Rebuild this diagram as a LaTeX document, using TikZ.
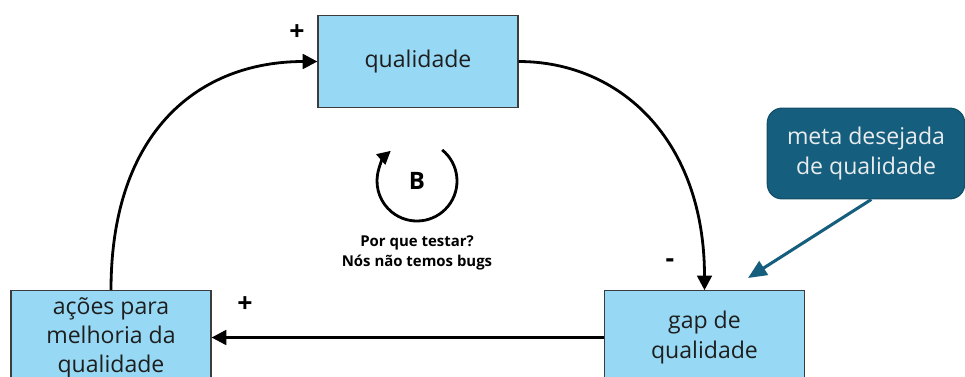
\documentclass[tikz,border=0pt]{standalone}
\usepackage{fontspec}
\setmainfont{Open Sans}
\usetikzlibrary{arrows.meta}

\definecolor{boxblue}{RGB}{151,217,245}
\definecolor{boxline}{RGB}{60,60,60}
\definecolor{metateal}{RGB}{22,94,125}
\definecolor{metatext}{RGB}{232,236,238}
\definecolor{inktext}{RGB}{30,30,30}

\begin{document}
\begin{tikzpicture}[x=0.75pt,y=0.75pt,yscale=-1,xscale=1,
  varbox/.style={draw=boxline,fill=boxblue,line width=0.9pt,minimum width=150pt,minimum height=69pt,
    inner sep=0pt,align=center,text=inktext,font=\fontsize{17.3}{21.8}\selectfont},
  goalbox/.style={draw=metateal!85!black,fill=metateal,line width=0.9pt,rounded corners=11pt,
    minimum width=148pt,minimum height=68pt,inner sep=0pt,align=center,text=metatext,
    font=\fontsize{17.3}{21.8}\selectfont},
  link/.style={draw=black,line width=2.1pt,-{Triangle[length=11pt,width=11pt]}},
  goallink/.style={draw=metateal,line width=2.3pt,-{Triangle[length=14pt,width=12pt]}},
  sign/.style={inner sep=0.75pt,font=\bfseries\fontsize{20}{20}\selectfont},
  looptext/.style={inner sep=0.75pt,align=center,font=\bfseries\fontsize{11.2}{15}\selectfont}]
\useasboundingbox (0,0) rectangle (965,376);

%Shape: Rectangle [qualidade]
\node [varbox] (qual) at (418,61.5) {qualidade};
%Shape: Rectangle [acoes]
\node [varbox,minimum height=70pt] (acoes) at (111,337.5) {ações para\\melhoria da\\qualidade};
%Shape: Rectangle [gap]
\node [varbox,minimum height=70pt] (gap) at (704.5,337.5) {gap de\\qualidade};
%Shape: Rounded Rectangle [meta]
\node [goalbox] (meta) at (866,153.5) {meta desejada\\de qualidade};

%Curve Lines
\draw [link] (qual.east) .. controls (620,61.5) and (704.5,140) .. (gap.north) ;
%Curve Lines
\draw [link] (acoes.north) .. controls (111,130) and (200,61.5) .. (qual.west) ;
%Straight Lines
\draw [link] (gap.west) -- (acoes.east) ;
%Straight Lines
\coordinate (metatip) at (748,278);
\draw [goallink] ([xshift=4pt]meta.south) -- (metatip) ;

%Loop symbol
\coordinate (loopc) at (417,181);
\draw [line width=2.1pt,-{Triangle[length=10pt,width=10pt]}] (loopc) ++(-51:40) arc [start angle=-51,end angle=229,radius=40] ;
\node [inner sep=0pt,font=\bfseries\fontsize{18}{18}\selectfont] (loopB) at (loopc) {B};

% Text Node
\node [looptext] (loopnote) at (417,253) {Por que testar?\\Nós não temos bugs};
% Text Node
\node [sign] (plusqual) at (297,33) {+};
% Text Node
\node [sign] (plusacoes) at (245,305) {+};
% Text Node
\node [sign] (minusgap) at (670,263) {-};

\end{tikzpicture}
\end{document}
